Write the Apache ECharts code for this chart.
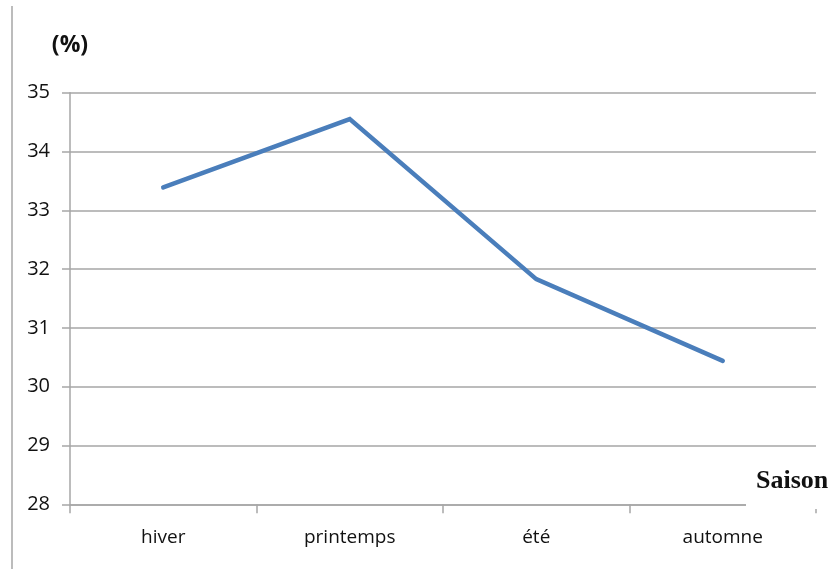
<!DOCTYPE html>
<html>
<head>
<meta charset="utf-8">
<style>
  html, body { margin: 0; padding: 0; background: #ffffff; }
  #chart { width: 828px; height: 569px; }
</style>
<script src="https://cdn.jsdelivr.net/npm/echarts@6/dist/echarts.min.js"></script>
</head>
<body>
<div id="chart"></div>
<script>
// Seasons and their percentage values
const categories = ['hiver', 'printemps', 'été', 'automne'];
const values = [33.39, 34.55, 31.83, 30.44];
const yTicks = { min: 28, max: 35, interval: 1 };

const chart = echarts.init(document.getElementById('chart'), null, { renderer: 'canvas' });

const font = '"Open Sans", "Noto Sans", sans-serif';
const gridColor = '#a6a6a6';
const textColor = '#111111';

chart.setOption({
  animation: false,
  backgroundColor: '#ffffff',
  grid: { left: 70, right: 12, top: 92.7, bottom: 64.7, containLabel: false },
  xAxis: {
    type: 'category',
    data: categories,
    boundaryGap: true,
    axisLine: { show: true, lineStyle: { color: gridColor, width: 1.5 } },
    axisTick: { show: true, length: 9, alignWithLabel: false, lineStyle: { color: gridColor, width: 1.5 } },
    axisLabel: { color: textColor, fontSize: 19, fontFamily: font, margin: 24 },
    splitLine: { show: false }
  },
  yAxis: {
    type: 'value',
    min: yTicks.min,
    max: yTicks.max,
    interval: yTicks.interval,
    name: '(%)',
    nameLocation: 'end',
    nameGap: 36,
    nameTextStyle: { color: textColor, fontSize: 23, fontWeight: 'bold', fontFamily: font, align: 'center' },
    axisLine: { show: true, lineStyle: { color: gridColor, width: 1.5 } },
    axisTick: { show: true, inside: false, length: 8, lineStyle: { color: gridColor, width: 1.5 } },
    axisLabel: { color: textColor, fontSize: 20, fontFamily: font, margin: 20 },
    splitLine: { show: true, lineStyle: { color: gridColor, width: 1.5 } }
  },
  series: [{
    type: 'line',
    data: values,
    symbol: 'none',
    lineStyle: { color: '#4a7ebb', width: 4.5, cap: 'round', join: 'miter' },
    z: 3
  }],
  graphic: [
    {
      type: 'line',
      shape: { x1: 12, y1: 6, x2: 12, y2: 569 },
      style: { stroke: '#a6a6a6', lineWidth: 1.5 },
      z: 10
    },
    {
      type: 'rect',
      shape: { x: 746, y: 455, width: 82, height: 54 },
      style: { fill: '#ffffff' },
      z: 20
    },
    {
      type: 'text',
      left: 756,
      top: 468,
      style: {
        text: 'Saison',
        fill: '#111111',
        font: 'bold 26px "Liberation Serif", "DejaVu Serif", serif'
      },
      z: 21
    }
  ]
});
</script>
</body>
</html>
